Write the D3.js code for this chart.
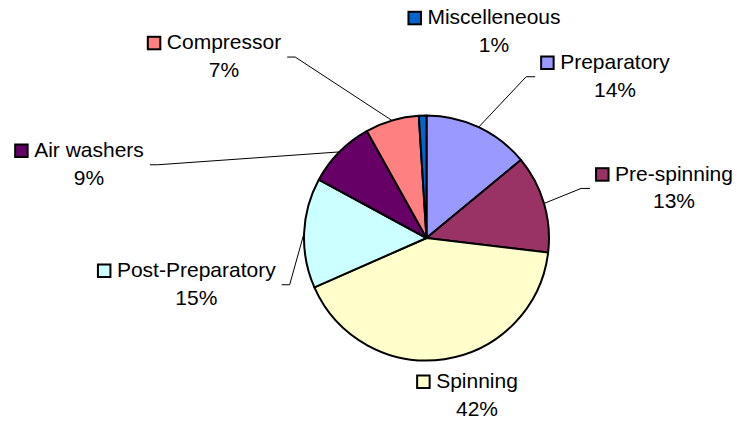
<!DOCTYPE html>
<html>
<head>
<meta charset="utf-8">
<script src="https://cdn.jsdelivr.net/npm/d3@7"></script>
<style>
  body { margin: 0; background: #fff; }
  text { font-family: "Liberation Sans", Arial, sans-serif; font-size: 21px; fill: #000; }
</style>
</head>
<body>
<div id="chart"></div>
<script>
// slice data, clockwise from 12 o'clock
var categories = ["Preparatory", "Pre-spinning", "Spinning", "Post-Preparatory", "Air washers", "Compressor", "Miscelleneous"];
var shares = [14.0, 12.9, 41.5, 14.5, 9.0, 7.1, 1.0];
var colors = ["#9999ff", "#993366", "#ffffcc", "#ccffff", "#660066", "#ff8080", "#0066cc"];

// manual label placement (offset of first line centre / baseline from pie centre)
var labelOffset = [[188.5, -169], [247.5, -57.3], [50.5, 150], [-230.2, 39], [-337.5, -81], [-202.5, -188.7], [67.5, -213.7]];

var width = 737, height = 421;
var cx = 426.5, cy = 238, radius = 122.5;
var lineGap = 27.5;

var svg = d3.select("#chart")
    .append("svg")
    .attr("width", width)
    .attr("height", height);

var total = d3.sum(shares);
var pie = d3.pie().sort(null).value(d => d);
var arcs = pie(shares);
var arc = d3.arc().innerRadius(0).outerRadius(radius);

var g = svg.append("g")
    .attr("transform", "translate(" + cx + "," + cy + ")");

g.selectAll("path.slice")
    .data(arcs)
    .enter().append("path")
    .attr("class", "slice")
    .attr("d", arc)
    .attr("fill", (d, i) => colors[i])
    .attr("stroke", "#000")
    .attr("stroke-width", 2)
    .attr("stroke-linejoin", "round");

var leaders = g.append("g");
var labels = g.append("g");

arcs.forEach(function (d, i) {
    var lx = labelOffset[i][0], ly = labelOffset[i][1];
    var lab = labels.append("g");

    var t1 = lab.append("text")
        .attr("x", lx).attr("y", ly)
        .attr("text-anchor", "middle")
        .text(categories[i]);
    var t2 = lab.append("text")
        .attr("x", lx).attr("y", ly + lineGap)
        .attr("text-anchor", "middle")
        .text(Math.round(d.value / total * 100 + 1e-9) + "%");

    var w1 = t1.node().getComputedTextLength();
    var w2 = t2.node().getComputedTextLength();
    var keyX = lx - w1 / 2 - 20;

    lab.append("rect")
        .attr("x", keyX + 1)
        .attr("y", ly - 13.5 + 1)
        .attr("width", 12.5)
        .attr("height", 12.5)
        .attr("fill", colors[i])
        .attr("stroke", "#000")
        .attr("stroke-width", 2);

    // leader line from slice edge to label block
    var a = (d.startAngle + d.endAngle) / 2;
    var px = Math.sin(a) * radius, py = -Math.cos(a) * radius;
    var left = keyX, right = lx + Math.max(w1, w2) / 2;
    var top = ly - 17, bottom = ly + lineGap + 5;
    var midY = (top + bottom) / 2;
    var pts;
    if (px >= left && px <= right) {
        if (py > bottom) return;
        if (top - py < 20 && top > py) return;
        var ex = (left + right) / 2, ey = bottom + 10;
        pts = [[px, py], [ex, ey + 7], [ex, ey]];
    } else if (px < left) {
        pts = [[px, py], [left - 14, midY], [left - 5, midY]];
    } else {
        pts = [[px, py], [right + 14, midY], [right + 6, midY]];
    }
    leaders.append("path")
        .attr("d", d3.line()(pts))
        .attr("fill", "none")
        .attr("stroke", "#000")
        .attr("stroke-width", 1);
});
</script>
</body>
</html>
